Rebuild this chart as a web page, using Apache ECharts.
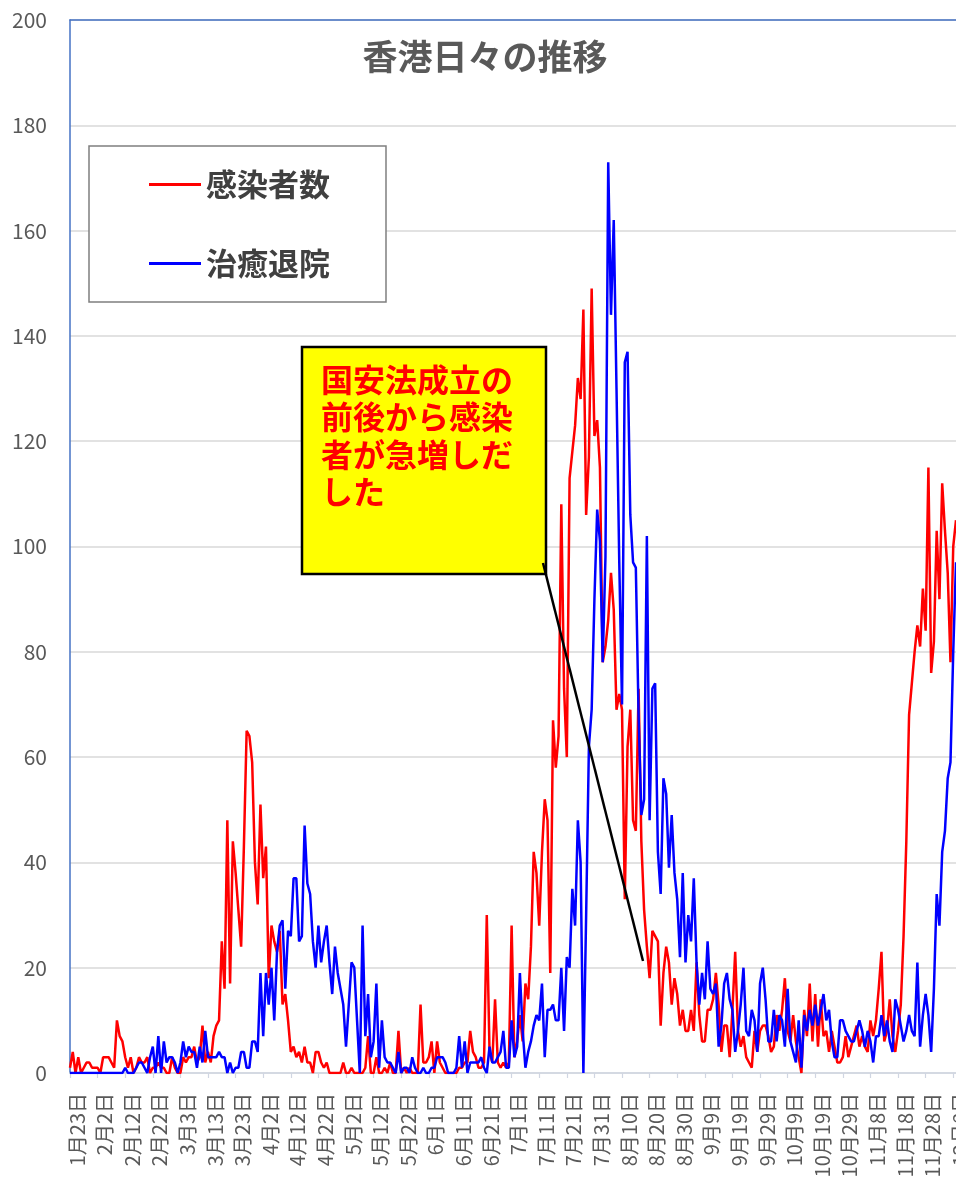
<!DOCTYPE html>
<html><head><meta charset="utf-8">
<script src="https://cdn.jsdelivr.net/npm/echarts@6/dist/echarts.min.js"></script>
<style>html,body{margin:0;padding:0;background:#fff;overflow:hidden}#c{width:956px;height:1186px}</style>
</head><body><div id="c"></div>
<script>
// ---- data ----
const startDate = [2020, 0, 23];   // 2020-01-23
const dayCount = 322;
const categories = [];
for (let k = 0; k < dayCount; k++) {
  const d = new Date(startDate[0], startDate[1], startDate[2] + k);
  categories.push((d.getMonth() + 1) + '月' + d.getDate() + '日');
}
const seriesNames = ['感染者数', '治癒退院'];
const titleText = '香港日々の推移';
const noteText = '国安法成立の\n前後から感染\n者が急増しだ\nした';
const yMin = 0, yMax = 200, yStep = 20;

// 感染者数 (daily new cases)
const infected = [
  1,4,0,3,0,1,2,2,1,1, 1,0,3,3,3,2,1,10,7,6, 3,1,3,0,1,3,2,2,3,0, 1,1,2,1,1,0,0,3,1,0, 0,3,2,3,3,5,2,3,9,2, 4,2,7,9,
  10,25,16,48,17,44,38,31,24,43, 65,64,59,40,32,51,37,43,18,28, 25,23,27,13,15,10,4,5,3,4, 2,5,2,2,0,4,4,2,1,
  2,0,0,0,0,0,2,0,0,1, 0,0,0,0,1,7,0,0,3,0, 0,1,0,2,0,0,8,0,1,0, 1,0,0,0,13,2,2,3,6,0, 6,2,1,0,0,0,0,0,1,1, 2,2,8,4,3,1,
  1,2,30,4,2,14,2,1,2,1, 2,28,3,6,11,6,17,14,24,42, 38,28,42,52,48,19,67,58,64,108, 73,60,113,118,
  123,132,128,145,106,117,149,121,124,115, 78,81,86,95,88,69,72,69,33,62, 69,48,46,73,44,31,24,18,27,26, 25,
  9,19,24,21,13,18,15,9,12,8, 8,12,8,21,11,6,6,12,12,14, 19,13,4,9,9,3,12,23,8,5, 7,3,
  2,1,8,4,8,9,9,7,4,5, 11,8,12,18,8,6,11,6,3,0, 12,7,17,6,15,5,14,7,8,4, 8,5,2,2,3,7,3,5,7,9,
  5,7,5,4,10,7,10,16,23,6, 8,14,7,4,8,13,26,44,68,74, 80,85,81,92,84,115,76,82,103,90, 112,103,95,78,100,105
];
// 治癒退院 (daily discharged)
const recovered = [
  0,0,0,0,0,0,0,0,0,0, 0,0,0,0,0,0,0,0,0,0, 1,0,0,0,1,2,2,1,0,3, 5,0,7,0,6,2,3,3,2,0, 2,6,3,5,4,
  4,1,5,2,8,3,3,3,3,4, 3,3,0,2,0,1,1,4,4,1, 1,6,6,4,19,7,19,13,20,10, 23,28,29,16,27,26,37,37,25,26, 47,36,34,25,20,28,21,
  25,28,21,15,24,19,16,13,5,13, 21,20,10,0,28,7,15,3,6,17, 1,10,3,2,2,1,0,4,0,1, 1,0,3,1,0,0,1,0,0,1, 1,3,3,3,2,0,0,0,1,7, 1,6,0,2,2,2,2,3,1,0, 5,2,2,3,4,8,1,1,
  10,3,5,19,8,1,4,6,9,11, 10,17,3,12,12,13,10,10,20,8, 22,20,35,28,48,40,0,30,62,69, 90,107,101,78,98,173,144,162,130,97, 70,135,137,106,97,96,68,49,52,102, 48,73,74,42,
  34,56,53,39,49,38,33,22,38,21, 30,25,37,21,13,19,14,25,16,15, 17,5,9,17,19,14,12,4,8,13, 20,8,
  7,12,10,4,17,20,14,6,6,12, 6,11,10,5,16,6,4,2,10,1, 11,8,12,9,13,9,12,15,10,12, 6,3,3,10,10,8,7,6,6,8,
  10,8,5,8,6,2,7,7,11,7, 10,6,4,14,12,9,6,8,11,8, 7,21,5,11,15,11,4,16,34,28, 42,46,56,59,80,97
];

// ---- chart ----
const FONT = '"Noto Sans CJK JP", "Noto Sans", sans-serif';
const chart = echarts.init(document.getElementById('c'), null, {renderer: 'canvas'});
const option = {
  animation: false,
  backgroundColor: '#ffffff',
  textStyle: {fontFamily: FONT},
  title: {
    text: titleText, left: 480, top: 34, textAlign: 'center',
    textStyle: {fontSize: 35, fontWeight: 'bold', color: '#595959', fontFamily: FONT}
  },
  legend: {
    data: seriesNames, orient: 'vertical', left: 89, top: 146,
    padding: [23, 56, 23, 60], itemGap: 48, itemWidth: 52, itemHeight: 3, icon: 'rect',
    borderColor: '#7f7f7f', borderWidth: 1.5, backgroundColor: '#ffffff',
    textStyle: {fontSize: 31, fontWeight: 'bold', color: '#404040', lineHeight: 30, fontFamily: FONT}
  },
  grid: {left: 70, right: 0, top: 20, bottom: 113, containLabel: false, outerBoundsMode: 'none'},
  xAxis: [{
    type: 'category', data: categories, boundaryGap: false,
    axisLine: {lineStyle: {color: '#d0d6e2', width: 1.5}},
    axisTick: {interval: 9, length: 5, lineStyle: {color: '#d0d6e2', width: 1.2}},
    axisLabel: {interval: 9, rotate: 90, fontSize: 20, color: '#595959', margin: 20,
                verticalAlign: 'top', lineHeight: 14, fontFamily: FONT, hideOverlap: false},
    splitLine: {show: false}
  }, {
    type: 'category', data: categories, boundaryGap: false, position: 'top',
    axisLine: {lineStyle: {color: '#4472c4', width: 1.5}},
    axisTick: {show: false}, axisLabel: {show: false}, splitLine: {show: false}
  }],
  yAxis: {
    type: 'value', min: yMin, max: yMax, interval: yStep,
    axisLine: {show: true, lineStyle: {color: '#4472c4', width: 1.5}},
    axisTick: {show: false},
    axisLabel: {fontSize: 21, color: '#595959', margin: 23, fontFamily: FONT},
    splitLine: {lineStyle: {color: '#d9d9d9', width: 1.5}}
  },
  series: [{
    name: seriesNames[0], type: 'line', data: infected, showSymbol: false,
    lineStyle: {color: '#ff0000', width: 2.5}, itemStyle: {color: '#ff0000'}
  }, {
    name: seriesNames[1], type: 'line', data: recovered, showSymbol: false,
    lineStyle: {color: '#0000ff', width: 2.5}, itemStyle: {color: '#0000ff'}
  }],
  graphic: [
    {type: 'rect', z: 100, shape: {x: 302, y: 347, width: 244, height: 227},
     style: {fill: '#ffff00', stroke: '#000000', lineWidth: 2.5}},
    {type: 'text', z: 101, x: 321, y: 361,
     style: {text: noteText, fill: '#ff0000', fontSize: 32, fontWeight: 'bold', fontFamily: FONT, lineHeight: 37.5}},
    {type: 'line', z: 102, shape: {x1: 543, y1: 563, x2: 643, y2: 961},
     style: {stroke: '#000000', lineWidth: 2.5}}
  ]
};
chart.setOption(option);
</script>
</body></html>
